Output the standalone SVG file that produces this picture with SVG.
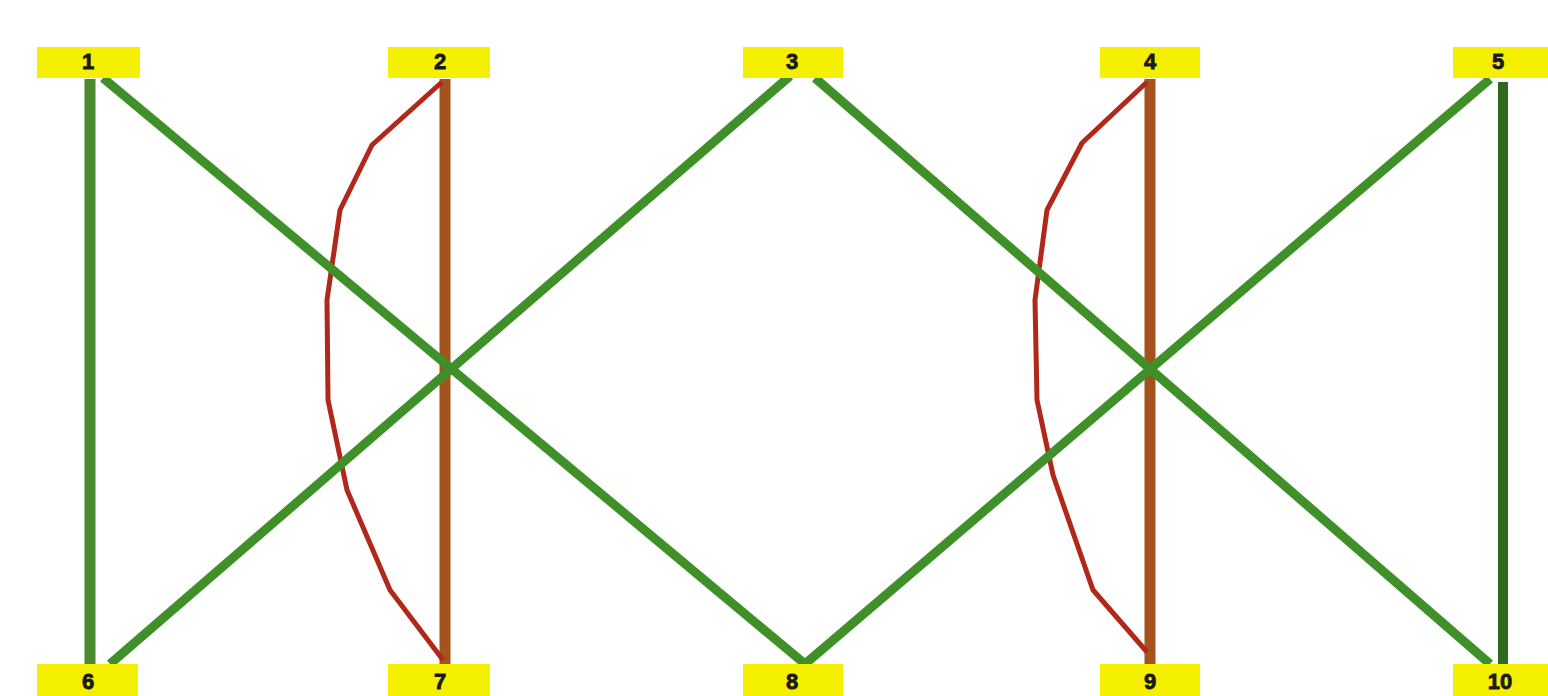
<svg xmlns="http://www.w3.org/2000/svg" width="1548" height="696" viewBox="0 0 1548 696">
<style>
.box{fill:#f5f000}
.lbl{font-family:"Liberation Sans",Arial,sans-serif;font-weight:bold;font-size:22px;fill:#1a1a1a;stroke:#1a1a1a;stroke-width:0.8;text-anchor:middle}
.g{stroke:#40902a;stroke-width:9;stroke-linecap:butt;fill:none}
.gd{stroke:#2f6a1f;stroke-width:10;fill:none}
.gv{stroke:#4a8a2c;stroke-width:11;fill:none}
.br{stroke:#a4521e;stroke-width:11;fill:none}
.rd{stroke:#b0281a;stroke-width:5;fill:none;stroke-linejoin:round}
</style>
<rect width="1548" height="696" fill="#ffffff"/>
<g id="connectors">
<line class="gv" x1="90" y1="79" x2="90" y2="664"/>
<line class="gd" x1="1503" y1="82" x2="1503" y2="664"/>
<line class="br" x1="445" y1="79" x2="445" y2="664"/>
<line class="br" x1="1150" y1="79" x2="1150" y2="664"/>
<polyline class="rd" points="442,82 372,145 340,210 327,300 328,400 347,490 390,590 443,660"/>
<polyline class="rd" points="1147,82 1082,143 1047,210 1035,300 1037,400 1053,475 1093,590 1147,652"/>
<line class="g" x1="103" y1="78" x2="805" y2="664"/>
<line class="g" x1="790" y1="76" x2="110" y2="664"/>
<line class="g" x1="815" y1="78" x2="1490" y2="664"/>
<line class="g" x1="1490" y1="79" x2="805" y2="664"/>
</g>
<g id="n1"><rect class="box" x="37" y="47" width="103" height="31"/><text class="lbl" x="88" y="69">1</text></g>
<g id="n2"><rect class="box" x="388" y="47" width="102" height="31"/><text class="lbl" x="440" y="69">2</text></g>
<g id="n3"><rect class="box" x="743" y="47" width="100" height="31"/><text class="lbl" x="792" y="69">3</text></g>
<g id="n4"><rect class="box" x="1100" y="47" width="100" height="31"/><text class="lbl" x="1150" y="69">4</text></g>
<g id="n5"><rect class="box" x="1453" y="47" width="95" height="31"/><text class="lbl" x="1498" y="69">5</text></g>
<g id="n6"><rect class="box" x="37" y="664" width="101" height="32"/><text class="lbl" x="88" y="689">6</text></g>
<g id="n7"><rect class="box" x="388" y="664" width="102" height="32"/><text class="lbl" x="440" y="689">7</text></g>
<g id="n8"><rect class="box" x="743" y="664" width="100" height="32"/><text class="lbl" x="792" y="689">8</text></g>
<g id="n9"><rect class="box" x="1100" y="664" width="100" height="32"/><text class="lbl" x="1150" y="689">9</text></g>
<g id="n10"><rect class="box" x="1453" y="664" width="95" height="32"/><text class="lbl" x="1500" y="689">10</text></g>
</svg>
